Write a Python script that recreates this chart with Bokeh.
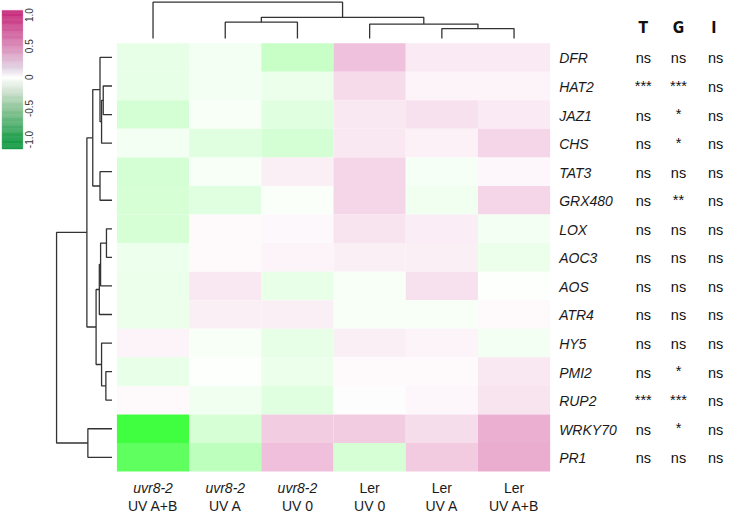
import numpy as np
from bokeh.plotting import figure
from bokeh.models import Range1d
from bokeh.core.properties import value
from bokeh.embed import file_html
from bokeh.resources import INLINE

# ---------------- data ----------------
genes = ["DFR", "HAT2", "JAZ1", "CHS", "TAT3", "GRX480", "LOX", "AOC3",
         "AOS", "ATR4", "HY5", "PMI2", "RUP2", "WRKY70", "PR1"]
col_keys = ["u_AB", "u_A", "u_0", "L_0", "L_A", "L_AB"]
col_line1 = ["uvr8-2", "uvr8-2", "uvr8-2", "Ler", "Ler", "Ler"]
col_line2 = ["UV A+B", "UV A", "UV 0", "UV 0", "UV A", "UV A+B"]

uvr8_uvab = [-0.10, -0.10, -0.17, -0.05, -0.17, -0.16, -0.16, -0.07, -0.08, -0.08, 0.05, -0.09, 0.02, -0.75, -0.63]
uvr8_uva  = [-0.05, -0.05, -0.03, -0.12, -0.03, -0.12, 0.02, 0.02, 0.10, 0.07, -0.03, -0.01, -0.06, -0.16, -0.26]
uvr8_uv0  = [-0.22, -0.08, -0.12, -0.17, 0.07, -0.02, 0.03, 0.05, -0.09, 0.07, -0.10, -0.08, -0.12, 0.22, 0.28]
ler_uv0   = [0.27, 0.16, 0.10, 0.10, 0.18, 0.18, 0.12, 0.07, -0.03, -0.03, 0.07, 0.02, 0.01, 0.22, -0.16]
ler_uva   = [0.09, 0.05, 0.13, 0.06, -0.04, -0.06, 0.08, 0.07, 0.13, -0.03, 0.05, 0.02, 0.04, 0.15, 0.23]
ler_uvab  = [0.09, 0.05, 0.09, 0.18, 0.04, 0.18, -0.05, -0.08, -0.01, 0.02, -0.05, 0.10, 0.12, 0.35, 0.36]
columns_values = [uvr8_uvab, uvr8_uva, uvr8_uv0, ler_uv0, ler_uva, ler_uvab]

sig_headers = ["T", "G", "I"]
sig_T = ["ns", "***", "ns", "ns", "ns", "ns", "ns", "ns", "ns", "ns", "ns", "ns", "***", "ns", "ns"]
sig_G = ["ns", "***", "*", "*", "ns", "**", "ns", "ns", "ns", "ns", "ns", "*", "***", "*", "ns"]
sig_I = ["ns"] * 15

# row dendrogram merges (a, b, height)
row_merges = [
    ("HAT2", "JAZ1", 9.0),     # n0
    ("n0", "CHS", 10.7),       # n1
    ("DFR", "n1", 12.3),       # n2
    ("TAT3", "GRX480", 12.3),  # n3
    ("n2", "n3", 19.7),        # n4
    ("LOX", "AOC3", 5.7),      # n5
    ("n5", "AOS", 11.7),       # n6
    ("n6", "ATR4", 13.0),      # n7
    ("PMI2", "RUP2", 6.3),     # n8
    ("HY5", "n8", 10.7),       # n9
    ("n7", "n9", 16.3),        # n10
    ("n4", "n10", 25.7),       # n11
    ("WRKY70", "PR1", 24.7),   # n12
    ("n11", "n12", 56.7),      # n13
]
col_merges = [
    ("L_A", "L_AB", 10.3),     # n0
    ("L_0", "n0", 15.0),       # n1
    ("u_A", "u_0", 17.0),      # n2
    ("n2", "n1", 22.0),        # n3
    ("u_AB", "n3", 37.6),      # n4
]

cbar_ticks = [1.0, 0.5, 0.0, -0.5, -1.0]
cbar_tick_labels = ["1.0", "0.5", "0", "-0.5", "-1.0"]

# ---------------- layout helpers (reference pixel -> data units) ----------------
CW, RH = 73.8, 29.45
HM_L, HM_T = 119.0, 44.0


def X(px):
    return (px - HM_L) / CW


def Y(py):
    return -(py - HM_T) / RH


def heat_color(v):
    if v < 0:
        t = min(1.0, -v)
        end = (0, 255, 0)
    else:
        t = min(1.0, v)
        end = (197, 27, 125)
    r, g, b = [int(round(255 + (e - 255) * t)) for e in end]
    return "#%02x%02x%02x" % (r, g, b)


cb_stops_v = [-1.2, -1.0, -0.5, -0.2, 0.0, 0.15, 0.5, 1.0, 1.2]
cb_stops_c = [(24, 154, 70), (27, 158, 74), (141, 196, 151), (213, 229, 213), (255, 255, 255),
              (226, 212, 228), (217, 139, 184), (200, 49, 127), (198, 40, 122)]


def cbar_color(v):
    rgb = [int(round(np.interp(v, cb_stops_v, [c[k] for c in cb_stops_c]))) for k in range(3)]
    return "#%02x%02x%02x" % tuple(rgb)


p = figure(width=724, height=514,
           x_range=Range1d(X(0), X(740)), y_range=Range1d(Y(530), Y(0)),
           output_backend="svg", toolbar_location=None,
           x_axis_location=None, y_axis_location=None, min_border=0)
p.min_border_left = p.min_border_right = p.min_border_top = p.min_border_bottom = 0
p.grid.visible = False
p.outline_line_color = None
p.background_fill_color = "white"
p.border_fill_color = "white"

# ---------------- heatmap ----------------
hx, hy, hc = [], [], []
for c, vals in enumerate(columns_values):
    for r, v in enumerate(vals):
        hx.append(c + 0.5)
        hy.append(-(r + 0.5))
        hc.append(heat_color(v))
p.rect(x=hx, y=hy, width=1, height=1, fill_color=hc, line_color=None)


# ---------------- dendrograms ----------------
def dendro(merges, leaves, leaf_pos):
    pos = dict(zip(leaves, leaf_pos))
    hgt = {n: 0.0 for n in leaves}
    H, P = [], []
    for k, (a, b, h) in enumerate(merges):
        H.append([hgt[a], h, h, hgt[b]])
        P.append([pos[a], pos[a], pos[b], pos[b]])
        pos["n%d" % k] = (pos[a] + pos[b]) / 2.0
        hgt["n%d" % k] = h
    return H, P


LINE = "#333333"
H, P = dendro(row_merges, genes, [-(r + 0.5) for r in range(len(genes))])
p.multi_line(xs=[[X(114 - h) for h in hs] for hs in H], ys=P, line_color=LINE, line_width=1.3)

H, P = dendro(col_merges, col_keys, [c + 0.5 for c in range(len(col_keys))])
p.multi_line(xs=P, ys=[[Y(39.3 - h) for h in hs] for hs in H], line_color=LINE, line_width=1.3)

# ---------------- labels ----------------
FONT = value("Liberation Sans")
p.text(x=[X(571)] * len(genes), y=[-(r + 0.5) - 1.0 / RH for r in range(len(genes))], text=genes,
       text_align="left", text_baseline="middle", text_font=FONT,
       text_font_style="italic", text_font_size="14px", text_color="#1a1a1a")

it_idx = [i for i, s in enumerate(col_line1) if s.startswith("uvr8")]
no_idx = [i for i, s in enumerate(col_line1) if not s.startswith("uvr8")]
p.text(x=[i + 0.5 for i in it_idx], y=[Y(503)] * len(it_idx), text=[col_line1[i] for i in it_idx],
       text_align="center", text_baseline="middle", text_font=FONT, text_font_style="italic",
       text_font_size="14px", text_color="#1a1a1a")
p.text(x=[i + 0.5 for i in no_idx], y=[Y(503)] * len(no_idx), text=[col_line1[i] for i in no_idx],
       text_align="center", text_baseline="middle", text_font=FONT,
       text_font_size="14px", text_color="#1a1a1a")
p.text(x=[i + 0.5 for i in range(6)], y=[Y(521)] * 6, text=col_line2,
       text_align="center", text_baseline="middle", text_font=FONT,
       text_font_size="14px", text_color="#1a1a1a")

# significance columns
sig_x = [X(657), X(693), X(731)]
p.text(x=[X(657), X(693), X(729)], y=[Y(28.5)] * 3, text=sig_headers,
       text_align="center", text_baseline="middle",
       text_font=value("'Liberation Sans Narrow', 'DejaVu Sans Condensed', 'Liberation Sans'"),
       text_font_style="bold", text_font_size="15.5px", text_color="#111111")
for xs_, col in zip(sig_x, [sig_T, sig_G, sig_I]):
    ns_r = [r for r, s in enumerate(col) if s == "ns"]
    st_r = [r for r, s in enumerate(col) if s != "ns"]
    p.text(x=[xs_] * len(ns_r), y=[-(r + 0.5) - 1.0 / RH for r in ns_r], text=[col[r] for r in ns_r],
           text_align="center", text_baseline="middle", text_font=FONT,
           text_font_size="14.5px", text_color="#111111")
    if st_r:
        p.text(x=[xs_] * len(st_r), y=[-(r + 0.5) + 0.5 / RH for r in st_r], text=[col[r] for r in st_r],
               text_align="center", text_baseline="middle", text_font=FONT,
               text_font_size="14.5px", text_color="#111111")

# ---------------- colour key ----------------
def cb_py(v):
    return 79.2 - 64.2 * v


edges = np.linspace(-1.15, 1.075, 121)
mids = (edges[:-1] + edges[1:]) / 2
p.quad(left=X(1.7), right=X(22.7),
       bottom=[Y(cb_py(e)) for e in edges[:-1]], top=[Y(cb_py(e)) for e in edges[1:]],
       fill_color=[cbar_color(m) for m in mids], line_color=[cbar_color(m) for m in mids], line_width=0.5)
p.text(x=[X(29.5)] * len(cbar_ticks), y=[Y(cb_py(v)) for v in cbar_ticks], text=cbar_tick_labels,
       angle=np.pi / 2, text_align="center", text_baseline="middle", text_font=FONT,
       text_font_size="10px", text_color="#333333")

open("out.html", "w").write(file_html(p, INLINE))
